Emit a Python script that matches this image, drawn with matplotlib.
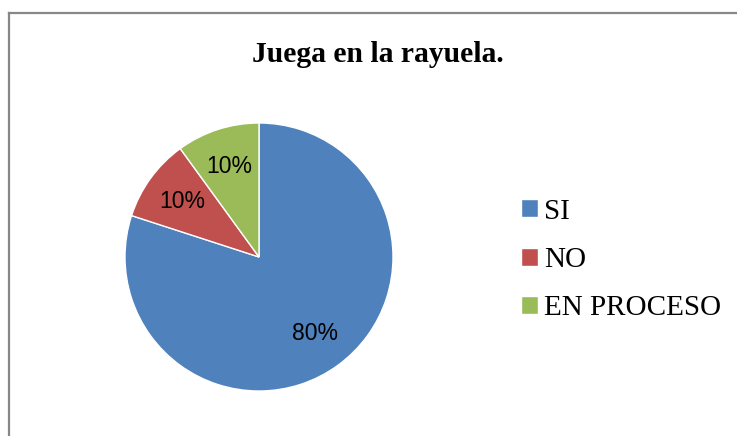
import matplotlib.pyplot as plt
from matplotlib.lines import Line2D

labels = ["SI", "NO", "EN PROCESO"]
values = [80, 10, 10]
colors = ["#4F81BD", "#C0504D", "#9BBB59"]

fig = plt.figure(figsize=(7.37, 4.36), dpi=100)

# pie axes, square in pixels
ax = fig.add_axes([125 / 737, 45 / 436, 268 / 737, 268 / 436])
wedges, texts, autotexts = ax.pie(
    values,
    colors=colors,
    startangle=90,
    counterclock=False,
    autopct="%1.0f%%",
    pctdistance=0.71,
    wedgeprops={"edgecolor": "white", "linewidth": 1.0},
    textprops={"fontsize": 16.5, "family": "Liberation Sans", "color": "black"},
)
ax.set_xlim(-1, 1)
ax.set_ylim(-1, 1)

fig.text(378 / 737, 1 - 54 / 436, "Juega en la rayuela.", ha="center", va="center",
         fontsize=21.3, fontweight="bold", family="Liberation Serif")

fig.legend(wedges, labels, loc="center left",
           bbox_to_anchor=(521 / 737, 1 - 260 / 436),
           frameon=False, borderpad=0, borderaxespad=0,
           handlelength=0.58, handleheight=0.58,
           handletextpad=0.2, labelspacing=0.77,
           prop={"family": "Liberation Serif", "size": 21})

# chart border (cut off at right and bottom)
x0 = 9 / 737
y0 = 1 - 13.5 / 436
fig.add_artist(Line2D([x0, x0], [0, y0], color="#878787", linewidth=1.6))
fig.add_artist(Line2D([x0, 1], [y0, y0], color="#878787", linewidth=1.6))

fig.savefig("out.png", dpi=100)
